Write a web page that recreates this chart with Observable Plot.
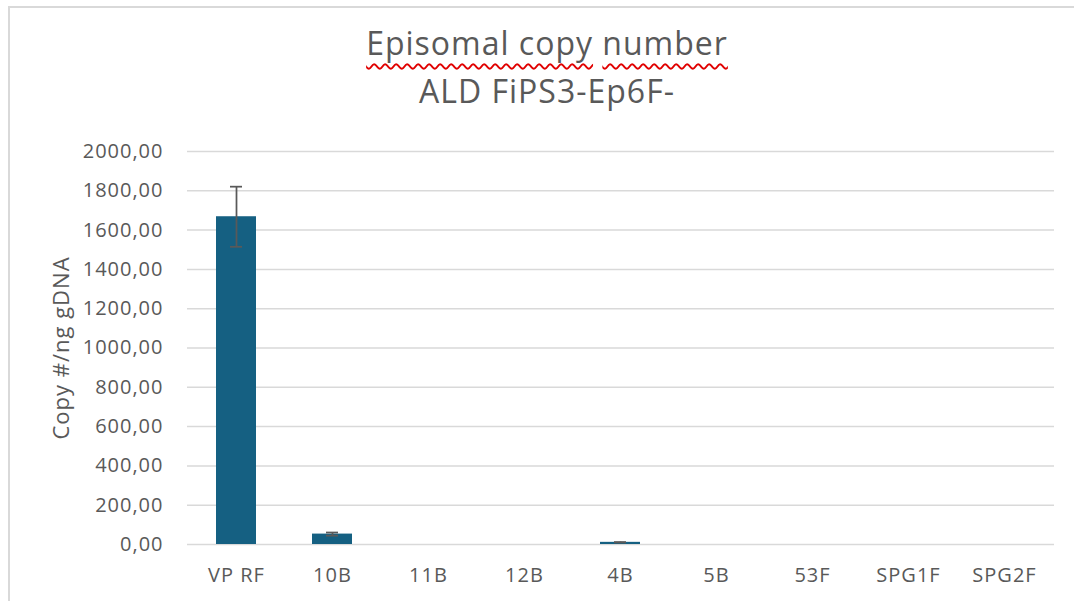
<!DOCTYPE html>
<html>
<head>
<meta charset="utf-8">
<script src="https://cdn.jsdelivr.net/npm/d3@7"></script>
<script src="https://cdn.jsdelivr.net/npm/@observablehq/plot@0.6"></script>
<style>
  html, body { margin: 0; padding: 0; background: #fff; }
  body { width: 1074px; height: 601px; overflow: hidden; position: relative; font-family: "Open Sans", "Liberation Sans", sans-serif; }
  #frame { position: absolute; left: 8px; top: 6px; width: 1200px; height: 700px; border-left: 2px solid #d9d9d9; border-top: 2px solid #d9d9d9; box-sizing: border-box; }
  #title { position: absolute; left: 0; top: 0; width: 1094px; height: 130px; text-align: center; color: #595959; font-size: 32px; letter-spacing: 1px; line-height: 48px; padding-top: 19px; box-sizing: border-box; }
  #title .sq { text-decoration: underline wavy #e00000; text-decoration-thickness: 1.5px; text-underline-offset: 8px; text-decoration-skip-ink: none; }
  #chart { position: absolute; left: 0; top: 130px; }
  #chart svg { overflow: visible; letter-spacing: 1px; }
</style>
</head>
<body>
<div id="frame"></div>
<div id="title"><span class="sq">Episomal copy</span> <span class="sq">number</span><br>ALD FiPS3-Ep6F-</div>
<div id="chart"></div>
<script>
const categories = ["VP RF", "10B", "11B", "12B", "4B", "5B", "53F", "SPG1F", "SPG2F"];
const values = [1668, 53, 0, 0, 11, 0, 0, 0, 0];
const errors = [153, 8, 0, 0, 1, 0, 0, 0, 0];
const yTicks = [0, 200, 400, 600, 800, 1000, 1200, 1400, 1600, 1800, 2000];

const data = categories.map((c, i) => ({cat: c, v: values[i], e: errors[i]}));
const errData = data.filter(d => d.e > 0);
const fmt = d => d.toFixed(2).replace(".", ",");

const chart = Plot.plot({
  width: 1074,
  height: 471,
  marginLeft: 187,
  marginRight: 20,
  marginTop: 21,
  marginBottom: 57,
  style: {fontFamily: "'Open Sans', 'Liberation Sans', sans-serif", fontSize: "20px", color: "#595959", background: "transparent"},
  x: {domain: categories, paddingInner: 0.58, paddingOuter: 0.29, label: null, tickSize: 0, tickPadding: 23},
  y: {domain: [0, 2000], ticks: yTicks, tickFormat: fmt, label: null, tickSize: 0, tickPadding: 24},
  marks: [
    Plot.gridY(yTicks, {stroke: "#d9d9d9", strokeOpacity: 1, strokeWidth: 1.5}),
    Plot.barY(data, {x: "cat", y: "v", fill: "#156082"}),
    Plot.ruleX(errData, {x: "cat", y1: d => d.v - d.e, y2: d => d.v + d.e, stroke: "#595959", strokeWidth: 1.75}),
    Plot.tickY(errData, {x: "cat", y: d => d.v + d.e, stroke: "#595959", strokeWidth: 1.75, insetLeft: 14, insetRight: 14}),
    Plot.tickY(errData, {x: "cat", y: d => Math.max(0, d.v - d.e), stroke: "#595959", strokeWidth: 1.75, insetLeft: 14, insetRight: 14}),
    Plot.axisX({tickSize: 0, tickPadding: 23, fontSize: 20, fill: "#595959"}),
    Plot.axisY({ticks: yTicks, tickFormat: fmt, tickSize: 0, tickPadding: 24, fontSize: 20, fill: "#595959"}),
    Plot.text(["Copy #/ng gDNA"], {frameAnchor: "left", dx: -126, rotate: -90, textAnchor: "middle", fontSize: 22, fill: "#595959", text: d => d})
  ]
});
document.getElementById("chart").appendChild(chart);
</script>
</body>
</html>
